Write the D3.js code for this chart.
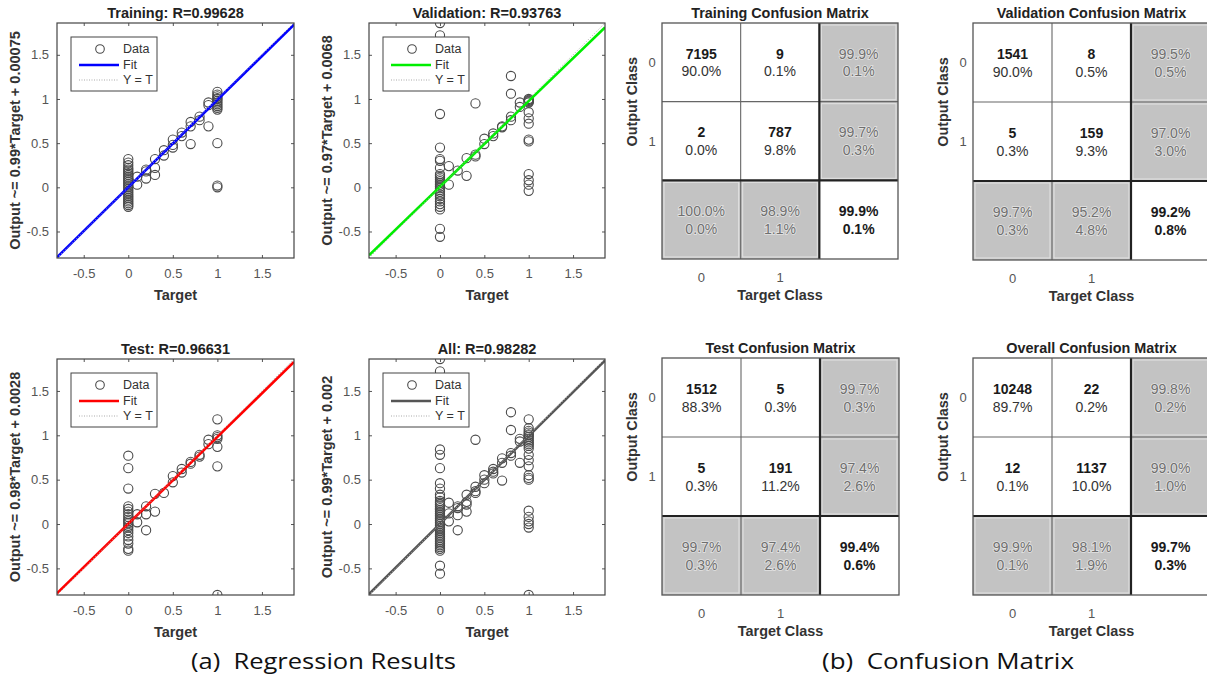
<!DOCTYPE html>
<html><head><meta charset="utf-8">
<script src="https://cdn.jsdelivr.net/npm/d3@7"></script>
<style>
body{margin:0;background:#fff}
svg{display:block}
text{font-family:"Liberation Sans",Arial,Helvetica,sans-serif}
</style>
</head><body>
<svg id="chart" width="1207" height="677"></svg>
<script>
// ---------------- DATA ----------------
const axisTicks = [-0.5, 0, 0.5, 1, 1.5];
const axisDomain = [-0.8, 1.86];

const regTitles = ["Training: R=0.99628", "Validation: R=0.93763", "Test: R=0.96631", "All: R=0.98282"];
const fitSlopes = [0.99, 0.97, 0.98, 0.99];
const fitIntercepts = [0.00075, 0.0068, 0.0028, 0.002];
const yLabels = ["Output ~= 0.99*Target + 0.00075", "Output ~= 0.97*Target + 0.0068",
                 "Output ~= 0.98*Target + 0.0028", "Output ~= 0.99*Target + 0.002"];
const legendLabels = ["Data", "Fit", "Y = T"];

// [target, output]
const trainingPoints = [
  [0,-0.22],[0,-0.2],[0,-0.18],[0,-0.16],[0,-0.14],[0,-0.12],[0,-0.1],[0,-0.08],[0,-0.06],[0,-0.04],[0,-0.02],
  [0,0],[0,0.02],[0,0.04],[0,0.06],[0,0.08],[0,0.1],[0,0.12],[0,0.14],[0,0.16],[0,0.18],[0,0.2],[0,0.22],[0,0.25],[0,0.28],[0,0.32],
  [0.1,0.03],[0.1,0.12],[0.2,0.2],[0.2,0.1],[0.2,0.18],[0.3,0.32],[0.3,0.22],[0.3,0.14],[0.4,0.42],[0.4,0.36],
  [0.5,0.54],[0.5,0.48],[0.5,0.45],[0.6,0.62],[0.6,0.58],[0.7,0.74],[0.7,0.69],[0.7,0.49],[0.8,0.8],[0.8,0.76],
  [0.9,0.69],[0.9,0.93],[0.9,0.96],
  [1,1.08],[1,1.05],[1,1.03],[1,1.01],[1,1.0],[1,0.98],[1,0.96],[1,0.94],[1,0.92],[1,0.9],[1,0.88],[1,0.5],[1,0.02],[1,0.0]
];
const validationPoints = [
  [0,1.86],[0,1.72],[0,0.83],[0,0.45],[0,0.32],[0,0.3],[0,0.22],[0,0.15],[0,0.13],[0,0.11],[0,0.09],[0,0.07],[0,0.05],
  [0,0.03],[0,0.01],[0,-0.01],[0,-0.03],[0,-0.05],[0,-0.08],[0,-0.1],[0,-0.13],[0,-0.16],[0,-0.19],[0,-0.22],[0,-0.25],[0,-0.47],[0,-0.56],
  [0.1,0.24],[0.1,0.03],[0.2,0.19],[0.3,0.33],[0.3,0.13],[0.4,0.95],[0.4,0.37],[0.4,0.35],[0.5,0.55],[0.5,0.49],
  [0.6,0.61],[0.6,0.58],[0.7,0.69],[0.7,0.68],[0.8,1.26],[0.8,1.06],[0.8,0.8],[0.8,0.76],[0.9,0.96],[0.9,0.91],
  [1,1.0],[1,0.99],[1,0.98],[1,0.97],[1,0.96],[1,0.85],[1,0.78],[1,0.72],[1,0.54],[1,0.52],[1,0.15],[1,0.08],[1,0.03],[1,-0.04]
];
const testPoints = [
  [0,0.77],[0,0.63],[0,0.4],[0,0.2],[0,0.17],[0,0.14],[0,0.11],[0,0.08],[0,0.05],[0,0.03],[0,0.01],[0,-0.02],[0,-0.04],
  [0,-0.07],[0,-0.1],[0,-0.14],[0,-0.18],[0,-0.22],[0,-0.28],[0,-0.3],
  [0.1,0.11],[0.1,0.02],[0.2,0.2],[0.2,0.11],[0.2,-0.07],[0.3,0.34],[0.3,0.14],[0.4,0.35],[0.5,0.54],[0.5,0.47],
  [0.6,0.62],[0.6,0.58],[0.7,0.7],[0.7,0.68],[0.8,0.78],[0.8,0.76],[0.9,0.95],[0.9,0.9],
  [1,1.18],[1,1.0],[1,0.98],[1,0.96],[1,0.87],[1,0.65],[1,-0.8]
];
const allPoints = [
  [0,1.86],[0,1.72],[0,0.84],[0,0.78],[0,0.63],[0,0.46],[0,0.4],[0,0.33],[0,0.3],[0,0.26],[0,0.24],[0,0.22],[0,0.2],
  [0,0.18],[0,0.16],[0,0.14],[0,0.12],[0,0.1],[0,0.08],[0,0.06],[0,0.04],[0,0.02],[0,0],[0,-0.02],[0,-0.04],[0,-0.06],
  [0,-0.08],[0,-0.1],[0,-0.12],[0,-0.14],[0,-0.16],[0,-0.18],[0,-0.2],[0,-0.22],[0,-0.24],[0,-0.26],[0,-0.28],[0,-0.3],
  [0,-0.47],[0,-0.56],
  [0.1,0.24],[0.1,0.12],[0.1,0.03],[0.2,0.2],[0.2,0.18],[0.2,0.1],[0.2,-0.07],[0.3,0.33],[0.3,0.25],[0.3,0.22],[0.3,0.14],
  [0.4,0.95],[0.4,0.42],[0.4,0.37],[0.4,0.35],[0.5,0.55],[0.5,0.5],[0.5,0.46],[0.6,0.62],[0.6,0.59],[0.6,0.57],
  [0.7,0.74],[0.7,0.69],[0.7,0.49],[0.8,1.26],[0.8,1.06],[0.8,0.8],[0.8,0.77],[0.9,0.96],[0.9,0.93],[0.9,0.69],
  [1,1.18],[1,1.08],[1,1.05],[1,1.03],[1,1.01],[1,1.0],[1,0.98],[1,0.96],[1,0.94],[1,0.92],[1,0.9],[1,0.88],[1,0.85],
  [1,0.78],[1,0.72],[1,0.65],[1,0.55],[1,0.52],[1,0.5],[1,0.15],[1,0.08],[1,0.03],[1,0.0],[1,-0.04],[1,-0.8]
];

// Confusion matrices
const cmTitles = ["Training Confusion Matrix", "Validation Confusion Matrix", "Test Confusion Matrix", "Overall Confusion Matrix"];
const classLabels = ["0", "1"];
const cmCounts = [[[7195, 9], [2, 787]], [[1541, 8], [5, 159]], [[1512, 5], [5, 191]], [[10248, 22], [12, 1137]]];
const cmPercents = [[[90.0, 0.1], [0.0, 9.8]], [[90.0, 0.5], [0.3, 9.3]], [[88.3, 0.3], [0.3, 11.2]], [[89.7, 0.2], [0.1, 10.0]]];
const cmRowSummary = [[[99.9, 0.1], [99.7, 0.3]], [[99.5, 0.5], [97.0, 3.0]], [[99.7, 0.3], [97.4, 2.6]], [[99.8, 0.2], [99.0, 1.0]]];
const cmColSummary = [[[100.0, 0.0], [98.9, 1.1]], [[99.7, 0.3], [95.2, 4.8]], [[99.7, 0.3], [97.4, 2.6]], [[99.9, 0.1], [98.1, 1.9]]];
const cmTotal = [[99.9, 0.1], [99.2, 0.8], [99.4, 0.6], [99.7, 0.3]];

const captions = ["(a)  Regression Results", "(b)  Confusion Matrix"];

// ---------------- LAYOUT / STYLE ----------------
const regBoxes = [
  {x: 57, y: 23, w: 237, h: 235},
  {x: 369, y: 23, w: 236, h: 235},
  {x: 57, y: 359, w: 237, h: 236},
  {x: 369, y: 359, w: 236, h: 236}
];
const regPoints = [trainingPoints, validationPoints, testPoints, allPoints];
const fitColors = ["#0000ff", "#00ee00", "#ff0000", "#555555"];
const cmBoxes = [
  {x: 662, y: 23, s: 236},
  {x: 973, y: 23, s: 237},
  {x: 662, y: 358, s: 237},
  {x: 973, y: 358, s: 237}
];

const svg = d3.select("#chart");
const fmt = d => String(d);
const pct = v => v.toFixed(1) + "%";

function drawRegression(i) {
  const b = regBoxes[i];
  const g = svg.append("g").attr("transform", `translate(${b.x},${b.y})`);
  const x = d3.scaleLinear().domain(axisDomain).range([0, b.w]);
  const y = d3.scaleLinear().domain(axisDomain).range([b.h, 0]);

  g.append("rect").attr("width", b.w).attr("height", b.h).attr("fill", "#fff");

  const clipId = "clip" + i;
  g.append("clipPath").attr("id", clipId).append("rect").attr("width", b.w).attr("height", b.h);
  const plot = g.append("g").attr("clip-path", `url(#${clipId})`);

  const styleAxis = (sel) => {
    sel.select(".domain").remove();
    sel.selectAll(".tick line").attr("stroke", "#555");
    sel.selectAll(".tick text").attr("fill", "#555").style("font-size", "13px")
      .style("font-family", '"Liberation Sans",Arial,sans-serif');
  };
  g.append("g").attr("transform", `translate(0,${b.h})`)
    .call(d3.axisBottom(x).tickValues(axisTicks).tickFormat(fmt).tickSize(-3).tickPadding(11)).call(styleAxis);
  g.append("g").call(d3.axisTop(x).tickValues(axisTicks).tickFormat("").tickSize(-3)).call(styleAxis);
  g.append("g")
    .call(d3.axisLeft(y).tickValues(axisTicks).tickFormat(fmt).tickSize(-3).tickPadding(8)).call(styleAxis);
  g.append("g").attr("transform", `translate(${b.w},0)`)
    .call(d3.axisRight(y).tickValues(axisTicks).tickFormat("").tickSize(-3)).call(styleAxis);

  plot.selectAll("circle.pt").data(regPoints[i]).join("circle").attr("class", "pt")
    .attr("cx", d => x(d[0])).attr("cy", d => y(d[1])).attr("r", 4.6)
    .attr("fill", "none").attr("stroke", "#4a4a4a").attr("stroke-width", 1.1);

  const xs = axisDomain;
  plot.append("line")
    .attr("x1", x(xs[0])).attr("y1", y(fitSlopes[i] * xs[0] + fitIntercepts[i]))
    .attr("x2", x(xs[1])).attr("y2", y(fitSlopes[i] * xs[1] + fitIntercepts[i]))
    .attr("stroke", fitColors[i]).attr("stroke-width", 2.6);
  plot.append("line")
    .attr("x1", x(xs[0])).attr("y1", y(xs[0])).attr("x2", x(xs[1])).attr("y2", y(xs[1]))
    .attr("stroke", "#aaa").attr("stroke-width", 1).attr("stroke-dasharray", "1,2");

  g.append("rect").attr("width", b.w).attr("height", b.h).attr("fill", "none")
    .attr("stroke", "#444").attr("stroke-width", 1.2);

  const lg = g.append("g").attr("transform", "translate(14,14)");
  lg.append("rect").attr("width", 86).attr("height", 54).attr("fill", "#fff")
    .attr("stroke", "#444").attr("stroke-width", 1);
  const rowsY = [12, 28, 43];
  lg.append("circle").attr("cx", 29).attr("cy", rowsY[0]).attr("r", 4.3)
    .attr("fill", "none").attr("stroke", "#4a4a4a").attr("stroke-width", 1.1);
  lg.append("line").attr("x1", 8).attr("x2", 48).attr("y1", rowsY[1]).attr("y2", rowsY[1])
    .attr("stroke", fitColors[i]).attr("stroke-width", 2.6);
  lg.append("line").attr("x1", 8).attr("x2", 48).attr("y1", rowsY[2]).attr("y2", rowsY[2])
    .attr("stroke", "#aaa").attr("stroke-width", 1).attr("stroke-dasharray", "1,1.5");
  lg.selectAll("text.lt").data(legendLabels).join("text").attr("class", "lt")
    .attr("x", 52).attr("y", (d, k) => rowsY[k]).attr("dominant-baseline", "central")
    .style("font-size", "12.5px").attr("fill", "#333").text(d => d);

  g.append("text").attr("x", b.w / 2).attr("y", -5).attr("text-anchor", "middle")
    .style("font-size", "14.5px").style("font-weight", "bold").attr("fill", "#222").text(regTitles[i]);
  g.append("text").attr("x", b.w / 2).attr("y", b.h + 42).attr("text-anchor", "middle")
    .style("font-size", "14.5px").style("font-weight", "bold").attr("fill", "#333").text("Target");
  g.append("text").attr("transform", `translate(-37,${b.h / 2}) rotate(-90)`).attr("text-anchor", "middle")
    .style("font-size", "14.5px").style("font-weight", "bold").attr("fill", "#333").text(yLabels[i]);
}

function drawConfusion(i) {
  const b = cmBoxes[i];
  const g = svg.append("g").attr("transform", `translate(${b.x},${b.y})`);
  const keys = ["0", "1", "s"];
  const band = d3.scaleBand().domain(keys).range([0, b.s]);
  const cs = band.bandwidth();

  const cells = [];
  for (let r = 0; r < 3; r++) for (let c = 0; c < 3; c++) {
    let lines, type;
    if (r < 2 && c < 2) { lines = [String(cmCounts[i][r][c]), pct(cmPercents[i][r][c])]; type = "main"; }
    else if (r < 2 && c === 2) { lines = cmRowSummary[i][r].map(pct); type = "sum"; }
    else if (r === 2 && c < 2) { lines = cmColSummary[i][c].map(pct); type = "sum"; }
    else { lines = cmTotal[i].map(pct); type = "total"; }
    cells.push({r, c, lines, type});
  }

  const cg = g.selectAll("g.cell").data(cells).join("g").attr("class", "cell")
    .attr("transform", d => `translate(${band(keys[d.c])},${band(keys[d.r])})`);
  cg.append("rect").attr("width", cs).attr("height", cs).attr("fill", d => d.type === "sum" ? "#c3c3c3" : "#fff");
  cg.filter(d => d.type === "sum").append("rect")
    .attr("x", 2).attr("y", 2).attr("width", cs - 4).attr("height", cs - 4)
    .attr("fill", "none").attr("stroke", "#e3e3e3").attr("stroke-width", 1);

  const p1 = band("1");
  g.append("line").attr("x1", p1).attr("x2", p1).attr("y1", 0).attr("y2", b.s).attr("stroke", "#666").attr("stroke-width", 1.1);
  g.append("line").attr("y1", p1).attr("y2", p1).attr("x1", 0).attr("x2", b.s).attr("stroke", "#666").attr("stroke-width", 1.1);
  const ps = band("s");
  g.append("line").attr("x1", ps).attr("x2", ps).attr("y1", 0).attr("y2", b.s).attr("stroke", "#222").attr("stroke-width", 2.2);
  g.append("line").attr("y1", ps).attr("y2", ps).attr("x1", 0).attr("x2", b.s).attr("stroke", "#222").attr("stroke-width", 2.2);
  g.append("rect").attr("width", b.s).attr("height", b.s).attr("fill", "none").attr("stroke", "#555").attr("stroke-width", 1.3);

  cg.each(function(d) {
    const s = d3.select(this);
    d.lines.forEach((t, k) => {
      const tx = s.append("text").attr("x", cs / 2).attr("y", cs / 2 + (k === 0 ? -8.5 : 9))
        .attr("text-anchor", "middle").attr("dominant-baseline", "central").style("font-size", "14px").text(t);
      if (d.type === "main") {
        tx.attr("fill", k === 0 ? "#1a1a1a" : "#333").style("font-weight", k === 0 ? "bold" : "normal");
      } else if (d.type === "total") {
        tx.attr("fill", "#1a1a1a").style("font-weight", "bold");
      } else {
        tx.attr("fill", "#6f6f6f").attr("stroke", "#fff").attr("stroke-width", 1.6)
          .attr("stroke-opacity", 0.55).style("paint-order", "stroke");
      }
    });
  });

  g.selectAll("text.rl").data(classLabels).join("text").attr("class", "rl")
    .attr("x", -10).attr("y", d => band(d) + cs / 2).attr("text-anchor", "middle").attr("dominant-baseline", "central")
    .style("font-size", "13px").attr("fill", "#555").text(d => d);
  g.selectAll("text.cl").data(classLabels).join("text").attr("class", "cl")
    .attr("x", d => band(d) + cs / 2).attr("y", b.s + 18).attr("text-anchor", "middle").attr("dominant-baseline", "central")
    .style("font-size", "13px").attr("fill", "#555").text(d => d);
  g.append("text").attr("x", b.s / 2).attr("y", -5).attr("text-anchor", "middle")
    .style("font-size", "14.4px").style("font-weight", "bold").attr("fill", "#222").text(cmTitles[i]);
  g.append("text").attr("x", b.s / 2).attr("y", b.s + 41).attr("text-anchor", "middle")
    .style("font-size", "14.4px").style("font-weight", "bold").attr("fill", "#333").text("Target Class");
  g.append("text").attr("transform", `translate(-25,${band("0") + cs}) rotate(-90)`).attr("text-anchor", "middle")
    .style("font-size", "14.4px").style("font-weight", "bold").attr("fill", "#333").text("Output Class");
}

for (let i = 0; i < 4; i++) drawRegression(i);
for (let i = 0; i < 4; i++) drawConfusion(i);

const capX = [[191, 456], [822, 1074]];
captions.forEach((c, k) => {
  svg.append("text").attr("x", capX[k][0]).attr("y", 669)
    .style("font-family", '"Liberation Sans Narrow","Open Sans","Liberation Sans",sans-serif')
    .style("font-size", "21.5px").attr("fill", "#111")
    .attr("textLength", capX[k][1] - capX[k][0]).attr("lengthAdjust", "spacingAndGlyphs")
    .attr("xml:space", "preserve").style("white-space", "pre").text(c);
});
</script>
</body></html>
